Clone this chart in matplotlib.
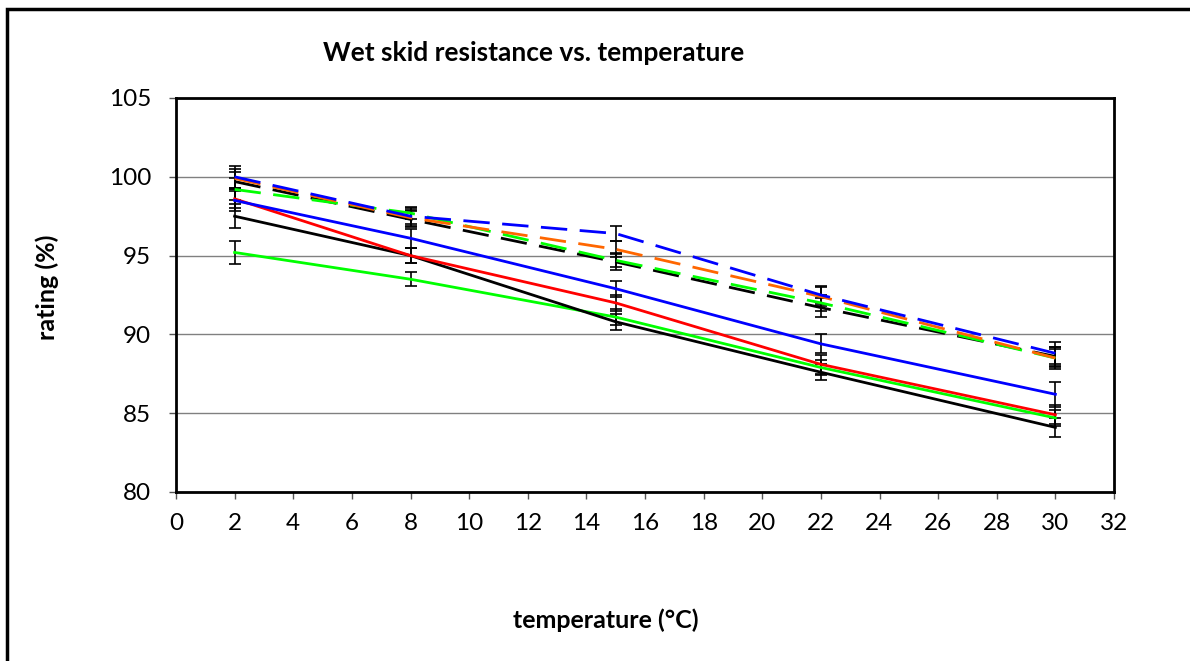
import matplotlib
matplotlib.use("Agg")
import matplotlib.pyplot as plt
from matplotlib.patches import Rectangle

plt.rcParams['font.family'] = ['Lato', 'DejaVu Sans']

temperature = [2, 8, 15, 22, 30]

blue_dashed = [100.0, 97.5, 96.4, 92.5, 88.8]
orange_dashed = [99.9, 97.4, 95.4, 92.4, 88.5]
black_dashed = [99.7, 97.3, 94.6, 91.7, 88.6]
green_dashed = [99.2, 97.7, 94.7, 92.0, 88.5]
blue_solid = [98.5, 96.1, 92.9, 89.4, 86.2]
red_solid = [98.6, 95.0, 92.0, 88.1, 84.9]
black_solid = [97.5, 95.0, 90.8, 87.6, 84.1]
green_solid = [95.2, 93.5, 91.1, 87.9, 84.7]

blue_dashed_err = [0.7, 0.5, 0.45, 0.6, 0.7]
orange_dashed_err = [0.6, 0.5, 0.5, 0.6, 0.7]
black_dashed_err = [0.6, 0.5, 0.5, 0.6, 0.6]
green_dashed_err = [0.7, 0.4, 0.45, 0.5, 0.6]
blue_solid_err = [0.7, 0.6, 0.5, 0.6, 0.8]
red_solid_err = [0.6, 0.5, 0.5, 0.6, 0.6]
black_solid_err = [0.75, 0.5, 0.5, 0.5, 0.6]
green_solid_err = [0.75, 0.45, 0.5, 0.5, 0.5]

title = "Wet skid resistance vs. temperature"
xlabel = "temperature (°C)"
ylabel = "rating (%)"

W, H = 1190, 661
fig = plt.figure(figsize=(W / 100, H / 100), dpi=100)
fig.patch.set_facecolor('white')

# figure border (only top/left visible in reference)
fig.patches.append(Rectangle((7 / W, -0.05), 1.2, 1 - 9 / H + 0.05,
                             transform=fig.transFigure, fill=False,
                             edgecolor='black', linewidth=2.5))

left, right, top, bottom = 176, 1114, 98, 492
ax = fig.add_axes([left / W, 1 - bottom / H, (right - left) / W, (bottom - top) / H])

series = [
    (green_solid, green_solid_err, '#00FF00', '-'),
    (black_solid, black_solid_err, '#000000', '-'),
    (red_solid, red_solid_err, '#FF0000', '-'),
    (blue_solid, blue_solid_err, '#0000FF', '-'),
    (black_dashed, black_dashed_err, '#000000', '--'),
    (green_dashed, green_dashed_err, '#00FF00', '--'),
    (orange_dashed, orange_dashed_err, '#FF6600', '--'),
    (blue_dashed, blue_dashed_err, '#0000FF', '--'),
]

for vals, errs, color, ls in series:
    ax.errorbar(temperature, vals, yerr=errs, fmt='none', ecolor='black',
                elinewidth=1.2, capsize=4, capthick=1.2, zorder=3)
    line, = ax.plot(temperature, vals, color=color, linestyle=ls, linewidth=2.0, zorder=4)
    if ls == '--':
        line.set_dashes([9.5, 4.5])

ax.set_xlim(0, 32)
ax.set_ylim(80, 105)
ax.set_xticks(range(0, 33, 2))
ax.set_yticks(range(80, 106, 5))
ax.yaxis.grid(True, color='#808080', linewidth=1.0)
ax.set_axisbelow(True)
for s in ax.spines.values():
    s.set_linewidth(2.0)
    s.set_color('black')
ax.tick_params(axis='both', direction='out', length=5, width=1, color='#555555',
               labelsize=17.5)
ax.tick_params(axis='x', pad=10)
ax.tick_params(axis='y', pad=13)

fig.text(534 / W, 1 - 53 / H, title, ha='center', va='center', fontsize=19, fontweight='bold')
fig.text(606 / W, 1 - 620 / H, xlabel, ha='center', va='center', fontsize=18, fontweight='bold')
fig.text(47 / W, 1 - 287 / H, ylabel, ha='center', va='center', fontsize=18, fontweight='bold',
         rotation=90)

fig.savefig("out.png", dpi=100)
